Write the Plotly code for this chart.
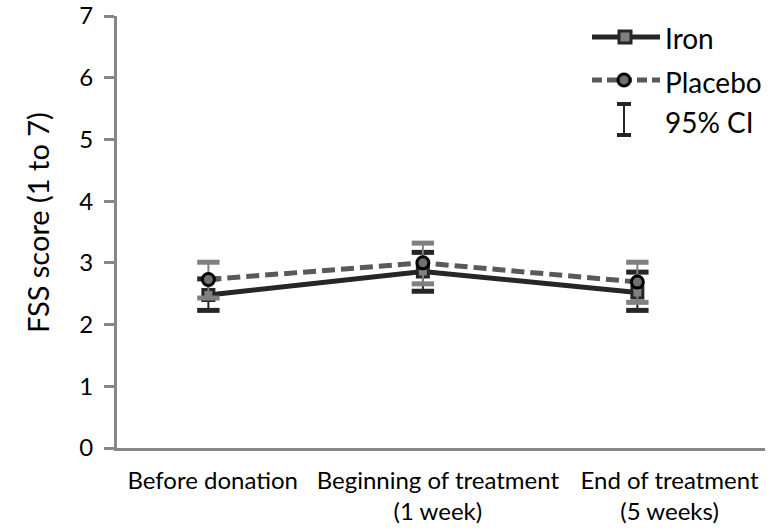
import plotly.graph_objects as go

categories = ["Before donation", "Beginning of treatment<br>(1 week)", "End of treatment<br>(5 weeks)"]
iron_mean = [2.48, 2.86, 2.52]
iron_low = [2.23, 2.54, 2.23]
iron_high = [2.74, 3.17, 2.85]
placebo_mean = [2.73, 3.00, 2.69]
placebo_low = [2.43, 2.66, 2.36]
placebo_high = [3.01, 3.32, 3.01]
y_ticks = [0, 1, 2, 3, 4, 5, 6, 7]
y_title = "FSS score (1 to 7)"

x = list(range(len(categories)))
DARK = "#262626"
GRAY = "#808080"
DASHGRAY = "#595959"
AXIS = "#878787"
FONT = "Lato"

fig = go.Figure()

# Iron
fig.add_trace(go.Scatter(
    x=x, y=iron_mean, mode="lines+markers",
    line=dict(color=DARK, width=5),
    marker=dict(symbol="square", size=11, color=GRAY, line=dict(color=DARK, width=3)),
    error_y=dict(type="data", symmetric=False,
                 array=[h - m for h, m in zip(iron_high, iron_mean)],
                 arrayminus=[m - l for m, l in zip(iron_mean, iron_low)],
                 color=DARK, thickness=2, width=0),
    showlegend=False, hoverinfo="skip"))
fig.add_trace(go.Scatter(
    x=x + x, y=iron_low + iron_high, mode="markers",
    marker=dict(symbol="line-ew", size=16, line=dict(color=DARK, width=5)),
    showlegend=False, hoverinfo="skip"))

# Placebo
fig.add_trace(go.Scatter(
    x=x, y=placebo_mean, mode="lines+markers",
    line=dict(color=DASHGRAY, width=5, dash="13px,6px"),
    marker=dict(symbol="circle", size=12, color="#707070", line=dict(color="#000000", width=3)),
    error_y=dict(type="data", symmetric=False,
                 array=[h - m for h, m in zip(placebo_high, placebo_mean)],
                 arrayminus=[m - l for m, l in zip(placebo_mean, placebo_low)],
                 color=GRAY, thickness=2, width=0),
    showlegend=False, hoverinfo="skip"))
fig.add_trace(go.Scatter(
    x=x + x, y=placebo_low + placebo_high, mode="markers",
    marker=dict(symbol="line-ew", size=16, line=dict(color=GRAY, width=5)),
    showlegend=False, hoverinfo="skip"))

# Figure geometry
W, H = 779, 531
L, R, T, B = 117, 14, 16, 83
pw, ph = W - L - R, H - T - B


def px(xp):
    return (xp - L) / pw


def py(yp):
    return (H - B - yp) / ph


shapes = [
    dict(type="line", xref="paper", yref="paper", x0=px(592), x1=px(660), y0=py(37), y1=py(37),
         line=dict(color=DARK, width=5)),
    dict(type="rect", xref="paper", yref="paper", x0=px(619), x1=px(631), y0=py(31), y1=py(43),
         line=dict(color=DARK, width=3), fillcolor=GRAY),
    dict(type="line", xref="paper", yref="paper", x0=px(592), x1=px(660), y0=py(80), y1=py(80),
         line=dict(color=DASHGRAY, width=5, dash="10px,5px")),
    dict(type="circle", xref="paper", yref="paper", x0=px(618), x1=px(630), y0=py(74), y1=py(86),
         line=dict(color="#000000", width=3), fillcolor="#707070"),
    dict(type="line", xref="paper", yref="paper", x0=px(624), x1=px(624), y0=py(104), y1=py(135),
         line=dict(color=DARK, width=2)),
    dict(type="line", xref="paper", yref="paper", x0=px(617), x1=px(631), y0=py(104), y1=py(104),
         line=dict(color=DARK, width=4)),
    dict(type="line", xref="paper", yref="paper", x0=px(617), x1=px(631), y0=py(135), y1=py(135),
         line=dict(color=DARK, width=4)),
]
legend_labels = [("Iron", 38), ("Placebo", 82), ("95% CI", 122)]
annotations = [
    dict(text=t, xref="paper", yref="paper", x=px(663), y=py(yy), xanchor="left", yanchor="middle",
         showarrow=False, font=dict(family=FONT, size=28, color="#000000"))
    for t, yy in legend_labels
]
annotations.append(dict(text=y_title, xref="paper", yref="paper", x=px(38), y=py(223),
                        xanchor="center", yanchor="middle", textangle=-90, showarrow=False,
                        font=dict(family=FONT, size=29, color="#000000")))

tick_shift = (0.02, 0.07, 0.15)
fig.update_layout(
    width=W, height=H,
    margin=dict(l=L, r=R, t=T, b=B, pad=0),
    paper_bgcolor="white", plot_bgcolor="white",
    font=dict(family=FONT, color="#000000"),
    shapes=shapes, annotations=annotations,
    xaxis=dict(range=[-0.426, 2.595], tickvals=[i + s for i, s in zip(x, tick_shift)],
               ticktext=categories, showgrid=False, zeroline=False, automargin=False,
               showline=True, linecolor=AXIS, linewidth=3, ticks="",
               tickfont=dict(family=FONT, size=24, color="#000000"), ticklabelstandoff=9),
    yaxis=dict(range=[0, 7], tickvals=y_ticks, showgrid=False, zeroline=False, automargin=False,
               showline=True, linecolor=AXIS, linewidth=3, ticks="outside", ticklen=10,
               tickwidth=3, tickcolor=AXIS, ticklabelstandoff=6, ticklabeloverflow="allow",
               tickfont=dict(family=FONT, size=24, color="#000000")),
)

fig.write_html("out.html", config={"displayModeBar": False},
               post_script="document.body.style.margin='0';")
